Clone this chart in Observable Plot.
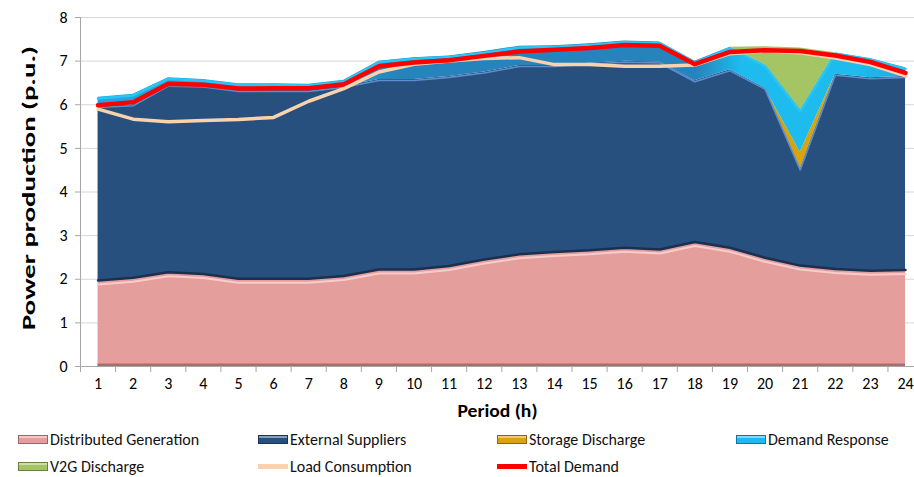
<!DOCTYPE html>
<html><head><meta charset="utf-8">
<script src="https://cdn.jsdelivr.net/npm/d3@7"></script>
<script src="https://cdn.jsdelivr.net/npm/@observablehq/plot@0.6"></script>
<style>
body{margin:0;background:#fff;font-family:Carlito,"Liberation Sans Narrow","Liberation Sans",sans-serif;}
#chart{position:relative;width:914px;height:477px;overflow:hidden}
.legend{position:absolute;left:0;top:425px;width:914px;height:52px}
.item{position:absolute;display:flex;align-items:center;font-size:16px;color:#111;white-space:nowrap;height:20px;transform:translateY(-50%)}
.sw{width:30px;height:9px;margin-right:2px;box-sizing:border-box;border:1px solid rgba(0,0,0,0.35);box-shadow:inset 0 2px 0 rgba(255,255,255,0.45)}
.ln{width:30px;height:5px;margin-right:2px}
</style></head><body><div id="chart"></div>
<script>
// ---- data ----
const periods = [1,2,3,4,5,6,7,8,9,10,11,12,13,14,15,16,17,18,19,20,21,22,23,24];
const distributedGeneration = [1.95,2.01,2.14,2.10,1.99,1.99,1.99,2.05,2.20,2.20,2.28,2.43,2.55,2.60,2.64,2.70,2.66,2.83,2.70,2.47,2.29,2.21,2.17,2.19];
const externalSuppliers     = [4.01,3.99,4.31,4.33,4.34,4.34,4.34,4.37,4.38,4.38,4.37,4.32,4.35,4.30,4.31,4.30,4.32,3.72,4.10,3.91,2.24,4.49,4.45,4.46];
const storageDischarge      = [0,0,0,0,0,0,0,0,0,0,0,0,0,0,0,0,0,0,0,0,0.38,0,0,0];
const demandResponse        = [0.21,0.24,0.17,0.15,0.15,0.15,0.14,0.14,0.42,0.50,0.47,0.47,0.44,0.45,0.45,0.46,0.46,0.45,0.52,0.53,0.96,0.49,0.44,0.20];
const v2gDischarge          = [0,0,0,0,0,0,0,0,0,0,0,0,0,0,0,0,0,0,0,0.42,1.43,0,0,0];
const loadConsumption       = [5.90,5.67,5.61,5.64,5.66,5.71,6.08,6.37,6.75,6.93,7.00,7.06,7.08,6.92,6.92,6.88,6.88,6.91,7.17,7.23,7.19,7.07,6.92,6.66];
const totalDemand           = [5.99,6.06,6.48,6.46,6.37,6.38,6.38,6.47,6.88,6.97,7.02,7.12,7.22,7.26,7.30,7.37,7.35,6.93,7.21,7.25,7.23,7.13,6.98,6.73];
const seriesNames = ["Distributed Generation","External Suppliers","Storage Discharge","Demand Response","V2G Discharge"];
const yTicks = [0,1,2,3,4,5,6,7,8];

// ---- styles ----
const seriesColors = ["#E49F9D","#27507F","#D9A30B","url(#drGrad)","#A5C463"];
const legendColors = ["#E49F9D","#27507F","#D9A30B","#1ABBEF","#A5C463"];
const loadColor = "#FAD2AD", demandColor = "#FF0000";

const seriesValues = [distributedGeneration, externalSuppliers, storageDischarge, demandResponse, v2gDischarge];
const rows = seriesNames.flatMap((name, s) => periods.map((p, i) => ({period: p, series: name, value: seriesValues[s][i]})));
const cum = (k) => periods.map((p, i) => seriesValues.slice(0, k).reduce((a, v) => a + v[i], 0));
const dgTop = cum(1), esTop = cum(2), drTop = cum(4);
const boundaries = periods.map(p => p - 0.5);

const font = 'Carlito,"Liberation Sans Narrow","Liberation Sans",sans-serif';
const svg = Plot.plot({
  width: 914, height: 425,
  marginLeft: 80, marginRight: 0, marginTop: 17, marginBottom: 59,
  style: {fontFamily: font, fontSize: "16px", color: "#000", background: "white", overflow: "visible"},
  x: {type: "linear", domain: [0.5, 24.256]},
  y: {domain: [0, 8]},
  color: {domain: seriesNames, range: seriesColors},
  marks: [
    Plot.gridY(yTicks, {stroke: "#d6d6d6", strokeOpacity: 1}),
    Plot.ruleX([0.5], {stroke: "#a6a6a6"}),
    Plot.areaY(rows, Plot.stackY({x: "period", y: "value", fill: "series", order: seriesNames, curve: "linear"})),
    // 3D-like edges
    Plot.ruleY([0], {x1: 1, x2: 24, stroke: "#a86e6e", strokeWidth: 3, dy: -1.5}),
    Plot.lineY(periods, {x: d => d, y: (d, i) => dgTop[i], stroke: "#1b2f50", strokeWidth: 2.5, dy: -1}),
    Plot.lineY(periods, {x: d => d, y: (d, i) => dgTop[i], stroke: "#f8cccc", strokeWidth: 2, dy: 3}),
    Plot.lineY(periods, {x: d => d, y: (d, i) => esTop[i], stroke: "#5d8dcc", strokeWidth: 1.6, dy: 1}),
    Plot.lineY(periods, {x: d => d, y: (d, i) => drTop[i], stroke: "#27c6f5", strokeWidth: 2.5, dy: 1.2}),
    Plot.lineY(periods, {x: d => d, y: (d, i) => loadConsumption[i], stroke: loadColor, strokeWidth: 3.5}),
    Plot.lineY(periods, {x: d => d, y: (d, i) => totalDemand[i], stroke: demandColor, strokeWidth: 4.5}),
    Plot.ruleY([0], {stroke: "#a6a6a6"}),
    Plot.axisY(yTicks, {tickSize: 5, tickPadding: 8, stroke: "#a6a6a6", label: null, fontSize: 16}),
    Plot.axisX(boundaries, {tickSize: 6, stroke: "#a6a6a6", tickFormat: () => "", label: null}),
    Plot.axisX(periods, {tickSize: 0, tickPadding: 11, label: null, fontSize: 16}),
    Plot.text(["Period (h)"], {text: d => d, frameAnchor: "bottom", dy: 50, fontSize: 19, fontWeight: "bold", fill: "#000", className: "xtitle"}),
    Plot.text(["Power production (p.u.)"], {text: d => d, frameAnchor: "left", textAnchor: "middle", dx: -52, dy: -4, rotate: -90, fontSize: 19, fontWeight: "bold", fill: "#000", className: "ytitle"})
  ]
});

// fit the axis titles to the reference's lengths
d3.select(svg).selectAll(".ytitle text").attr("textLength", 284).attr("lengthAdjust", "spacingAndGlyphs");
d3.select(svg).selectAll(".xtitle text").attr("textLength", 80).attr("lengthAdjust", "spacingAndGlyphs");

// gradient for the demand-response band (brighter where it is steep)
const defs = d3.select(svg).insert("defs", ":first-child");
const g = defs.append("linearGradient").attr("id", "drGrad").attr("x1", 0).attr("x2", 1).attr("y1", 0).attr("y2", 0);
[[0,"#22A6DC"],[0.30,"#22A2D8"],[0.37,"#2683BB"],[0.74,"#2683BB"],[0.796,"#1DBBEE"],[0.94,"#1DBBEE"],[1,"#24A9DE"]]
  .forEach(([o, c]) => g.append("stop").attr("offset", o).attr("stop-color", c));

const chart = document.getElementById("chart");
chart.appendChild(svg);

// legend
const legend = document.createElement("div");
legend.className = "legend";
const items = [
  {label: "Distributed Generation", color: legendColors[0], kind: "sw"},
  {label: "External Suppliers", color: legendColors[1], kind: "sw"},
  {label: "Storage Discharge", color: legendColors[2], kind: "sw"},
  {label: "Demand Response", color: legendColors[3], kind: "sw"},
  {label: "V2G Discharge", color: legendColors[4], kind: "sw"},
  {label: "Load Consumption", color: loadColor, kind: "ln"},
  {label: "Total Demand", color: demandColor, kind: "ln"}
];
const colX = [18, 258, 497, 736], rowY = [14, 41];
items.forEach((it, k) => {
  const el = document.createElement("div");
  el.className = "item";
  el.style.left = colX[k % 4] + "px";
  el.style.top = rowY[Math.floor(k / 4)] + "px";
  const sw = document.createElement("span");
  sw.className = it.kind;
  sw.style.background = it.color;
  el.appendChild(sw);
  el.appendChild(document.createTextNode(it.label));
  legend.appendChild(el);
});
chart.appendChild(legend);
</script>
</body></html>
